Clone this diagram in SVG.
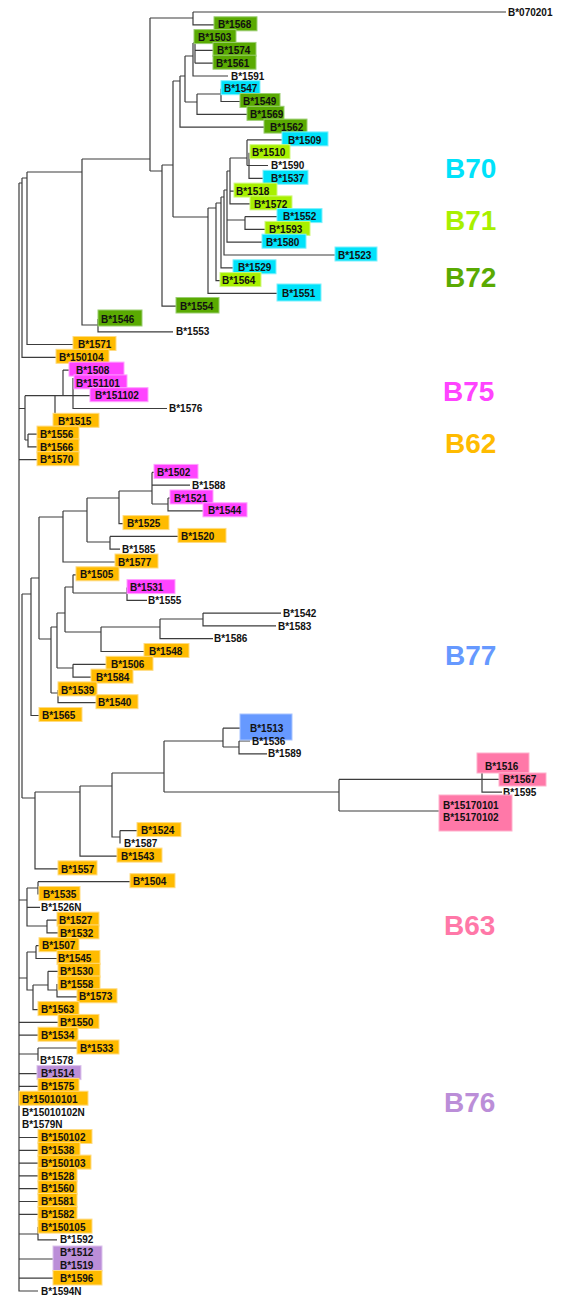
<svg xmlns="http://www.w3.org/2000/svg" width="565" height="1298" viewBox="0 0 565 1298">
<style>
.bg{fill:#fff}
.e{fill:none;stroke:#3c3c3c;stroke-width:1.2}
.t{font-family:"Liberation Sans",Arial,sans-serif;font-weight:bold;font-size:10px;fill:#111}
.big{font-family:"Liberation Sans",Arial,sans-serif;font-weight:bold;font-size:28px}
.c70{fill:#00E2FA;stroke:#7FF0FC}
.c71{fill:#A8F000;stroke:#D0F880}
.c72{fill:#5AAA02;stroke:#9ACE70}
.c75{fill:#FF44FF;stroke:#FFA0FF}
.c62{fill:#FFBB00;stroke:#FFDB80}
.c77{fill:#6699FF;stroke:#A8C4FF}
.c63{fill:#FF78A8;stroke:#FFB0CC}
.c76{fill:#BB8ED8;stroke:#DCC4EC}
</style>
<rect class="bg" x="0" y="0" width="565" height="1298"/>
<g id="connectors">
<path class="e" d="M193,12H506 M193,12V24.8H214 M150,18H193 M150,18V171 M82,159H150 M150,171H162 M162,165V306.2H176 M162,165H173 M173,81V217 M173,81H180 M180,76V127.1H264 M180,76H185 M185,56V102 M185,56H193 M193,43V76H228 M193,43H195 M195,37.6V63.2 M195,50.4H213 M195,63.2H213 M185,102H197 M197,94V114.3H247 M197,94H221 M221,88.7V101.5H240"/>
<path class="e" d="M173,217H208 M208,208V293.4H277 M208,208H216 M216,203V280.6H220 M216,203H221 M221,197V267.8H233 M221,197H224 M224,190V255H335 M224,190H227 M227,171V242.2H262 M227,220H245 M245,216.6V229.4H265 M245,216.6H277 M227,171H230 M230,158V203.9H250 M230,191.1H234 M230,158H247 M247,139.9V165.5 M247,139.9H282 M247,165.5H249 M249,152.7V178.3H263 M249,165.5H268"/>
<path class="e" d="M82,159V325H98 M98,319V331.8H173 M27,172H82 M27,172V344.5H73 M22,178H27 M22,178V357.3H56 M19,183H22 M19,183V1291H38"/>
<path class="e" d="M19,408.5H25 M25,395.7V440 M25,395.7H90 M55,395.7V421.3 M63,370.1V395.7 M63,370.1H69 M73,378V408.5H167 M25,440H28 M28,434.1V446.9H37 M28,434.1H37 M19,459.7H37"/>
<path class="e" d="M22,594V798 M22,594H31 M31,578V715.5H39 M31,578H39 M39,517V639 M39,517H63 M63,511V562H115 M63,511H87 M87,498V542 M87,498H119 M119,491V523.6H123 M119,491H152 M152,472.4V504 M152,472.4H154 M152,485.2H190 M152,504H168 M168,498V510.8H203 M168,498H170 M87,542H110 M110,536.4V549.2H120 M110,536.4H178 M39,639H51 M51,627V693 M51,627H57 M57,613V668 M57,613H65 M65,587V632 M65,587H73 M73,574.8V593 M73,574.8H76 M73,593H127 M127,587.6V600.3H147 M65,632H101 M101,627V651.5H144 M101,627H160 M160,619V638.7H213 M160,619H203 M203,613.1V625.9H276 M203,613.1H281 M57,668H73 M73,664.3V677.1H91 M73,664.3H106 M51,693H58 M58,689.9V702.7H96"/>
<path class="e" d="M22,798H35 M35,792V868.9H58 M35,792H80 M80,786V856.1H117 M80,786H112 M112,773V837H120 M120,830.6V843.4 M120,830.6H137 M112,773H164 M164,741V792 M164,741H223 M223,728.2V747 M223,728.2H240 M223,747H239 M239,741V753.8H267 M239,741H250 M164,792H339 M339,779.4V811 M339,779.4H500 M339,811H440 M440,805V817.8 M482,766.6V792.2H502"/>
<path class="e" d="M19,900H27 M27,888V926H47 M27,888H38 M38,881.7V894.5 M38,881.7H130 M27,907.3H40 M47,920.1V932.9H58 M47,920.1H57"/>
<path class="e" d="M19,978H27 M27,952V990H33 M27,952H36 M36,945.7V958.5H57 M36,945.7H39 M33,985V1009.6H38 M33,985H48 M48,971.3V990H57 M48,971.3H58 M57,984V996.8H77"/>
<path class="e" d="M19,1022.4H58 M19,1035.2H38 M19,1054H38 M38,1048V1060.8 M38,1048H77 M19,1073.6H37 M19,1086.4H38 M19,1137.5H38 M19,1150.3H38 M19,1163.1H38 M19,1175.9H38 M19,1188.7H38 M19,1201.5H38 M19,1214.3H38 M19,1234H38 M38,1227.1V1239.8H57 M19,1259H57 M57,1252.6V1265.4 M19,1278.2H53"/>
</g>
<g id="n0"><text class="t" x="508" y="15.6">B*070201</text></g>
<g id="n1"><rect class="c72" x="214" y="16.8" width="43" height="14"/><text class="t" x="218" y="28.4">B*1568</text></g>
<g id="n2"><rect class="c72" x="194" y="29.6" width="42" height="14"/><text class="t" x="198" y="41.2">B*1503</text></g>
<g id="n3"><rect class="c72" x="213" y="42.4" width="43" height="14"/><text class="t" x="217" y="54">B*1574</text></g>
<g id="n4"><rect class="c72" x="213" y="55.2" width="43" height="14"/><text class="t" x="216" y="66.8">B*1561</text></g>
<g id="n5"><text class="t" x="231" y="79.6">B*1591</text></g>
<g id="n6"><rect class="c70" x="221" y="80.7" width="39" height="14"/><text class="t" x="224" y="92.3">B*1547</text></g>
<g id="n7"><rect class="c72" x="240" y="93.5" width="40" height="14"/><text class="t" x="243" y="105.1">B*1549</text></g>
<g id="n8"><rect class="c72" x="247" y="106.3" width="37" height="14"/><text class="t" x="250" y="117.9">B*1569</text></g>
<g id="n9"><rect class="c72" x="264" y="119.1" width="43" height="14"/><text class="t" x="270" y="130.7">B*1562</text></g>
<g id="n10"><rect class="c70" x="282" y="131.9" width="46" height="14"/><text class="t" x="288" y="143.5">B*1509</text></g>
<g id="n11"><rect class="c71" x="250" y="144.7" width="40" height="14"/><text class="t" x="252" y="156.3">B*1510</text></g>
<g id="n12"><text class="t" x="271" y="169.1">B*1590</text></g>
<g id="n13"><rect class="c70" x="263" y="170.3" width="45" height="14"/><text class="t" x="271" y="181.9">B*1537</text></g>
<g id="n14"><rect class="c71" x="234" y="183.1" width="43" height="14"/><text class="t" x="236" y="194.7">B*1518</text></g>
<g id="n15"><rect class="c71" x="250" y="195.9" width="42" height="14"/><text class="t" x="254" y="207.5">B*1572</text></g>
<g id="n16"><rect class="c70" x="277" y="208.6" width="45" height="14"/><text class="t" x="283" y="220.2">B*1552</text></g>
<g id="n17"><rect class="c71" x="265" y="221.4" width="45" height="14"/><text class="t" x="269" y="233">B*1593</text></g>
<g id="n18"><rect class="c70" x="262" y="234.2" width="44" height="14"/><text class="t" x="266" y="245.8">B*1580</text></g>
<g id="n19"><rect class="c70" x="335" y="247" width="42" height="14"/><text class="t" x="338" y="258.6">B*1523</text></g>
<g id="n20"><rect class="c70" x="233" y="259.8" width="43" height="14"/><text class="t" x="238" y="271.4">B*1529</text></g>
<g id="n21"><rect class="c71" x="220" y="272.6" width="41" height="14"/><text class="t" x="222" y="284.2">B*1564</text></g>
<g id="n22"><rect class="c70" x="277" y="284" width="44" height="17"/><text class="t" x="282" y="297">B*1551</text></g>
<g id="n23"><rect class="c72" x="176" y="297.5" width="43" height="15.5"/><text class="t" x="180" y="309.8">B*1554</text></g>
<g id="n24"><rect class="c72" x="98" y="310" width="44" height="16"/><text class="t" x="101" y="322.6">B*1546</text></g>
<g id="n25"><text class="t" x="176" y="335.4">B*1553</text></g>
<g id="n26"><rect class="c62" x="73" y="336.5" width="43" height="14"/><text class="t" x="78" y="348.1">B*1571</text></g>
<g id="n27"><rect class="c62" x="56" y="349.3" width="53" height="14"/><text class="t" x="59" y="360.9">B*150104</text></g>
<g id="n28"><rect class="c75" x="69" y="362.1" width="55" height="14"/><text class="t" x="76" y="373.7">B*1508</text></g>
<g id="n29"><rect class="c75" x="74" y="374.9" width="53" height="14"/><text class="t" x="76" y="386.5">B*151101</text></g>
<g id="n30"><rect class="c75" x="90" y="387.7" width="58" height="14"/><text class="t" x="95" y="399.3">B*151102</text></g>
<g id="n31"><text class="t" x="169" y="412.1">B*1576</text></g>
<g id="n32"><rect class="c62" x="53" y="413.3" width="46" height="14"/><text class="t" x="58" y="424.9">B*1515</text></g>
<g id="n33"><rect class="c62" x="37" y="426.1" width="42" height="14"/><text class="t" x="40" y="437.7">B*1556</text></g>
<g id="n34"><rect class="c62" x="37" y="438.9" width="42" height="14"/><text class="t" x="40" y="450.5">B*1566</text></g>
<g id="n35"><rect class="c62" x="37" y="451.7" width="42" height="14"/><text class="t" x="40" y="463.3">B*1570</text></g>
<g id="n36"><rect class="c75" x="154" y="464.4" width="44" height="14"/><text class="t" x="157" y="476">B*1502</text></g>
<g id="n37"><text class="t" x="192" y="488.8">B*1588</text></g>
<g id="n38"><rect class="c75" x="170" y="490" width="43" height="14"/><text class="t" x="174" y="501.6">B*1521</text></g>
<g id="n39"><rect class="c75" x="203" y="502.8" width="44" height="14"/><text class="t" x="208" y="514.4">B*1544</text></g>
<g id="n40"><rect class="c62" x="123" y="515.6" width="46" height="14"/><text class="t" x="127" y="527.2">B*1525</text></g>
<g id="n41"><rect class="c62" x="178" y="528.4" width="48" height="14"/><text class="t" x="181" y="540">B*1520</text></g>
<g id="n42"><text class="t" x="122" y="552.8">B*1585</text></g>
<g id="n43"><rect class="c62" x="115" y="554" width="43" height="14"/><text class="t" x="118" y="565.6">B*1577</text></g>
<g id="n44"><rect class="c62" x="76" y="566.8" width="43" height="14"/><text class="t" x="80" y="578.4">B*1505</text></g>
<g id="n45"><rect class="c75" x="127" y="579.6" width="48" height="14"/><text class="t" x="130" y="591.2">B*1531</text></g>
<g id="n46"><text class="t" x="148" y="603.9">B*1555</text></g>
<g id="n47"><text class="t" x="283" y="616.7">B*1542</text></g>
<g id="n48"><text class="t" x="278" y="629.5">B*1583</text></g>
<g id="n49"><text class="t" x="214" y="642.3">B*1586</text></g>
<g id="n50"><rect class="c62" x="144" y="643.5" width="45" height="14"/><text class="t" x="149" y="655.1">B*1548</text></g>
<g id="n51"><rect class="c62" x="106" y="656.3" width="47" height="14"/><text class="t" x="111" y="667.9">B*1506</text></g>
<g id="n52"><rect class="c62" x="91" y="669.1" width="42" height="14"/><text class="t" x="96" y="680.7">B*1584</text></g>
<g id="n53"><rect class="c62" x="58" y="681.9" width="39" height="14"/><text class="t" x="61" y="693.5">B*1539</text></g>
<g id="n54"><rect class="c62" x="96" y="694.7" width="42" height="14"/><text class="t" x="98" y="706.3">B*1540</text></g>
<g id="n55"><rect class="c62" x="39" y="707.5" width="43" height="14"/><text class="t" x="42" y="719.1">B*1565</text></g>
<g id="n56"><rect class="c77" x="240" y="714" width="52" height="26"/><text class="t" x="250" y="731.8">B*1513</text></g>
<g id="n57"><text class="t" x="252" y="744.6">B*1536</text></g>
<g id="n58"><text class="t" x="268" y="757.4">B*1589</text></g>
<g id="n59"><rect class="c63" x="477" y="753" width="52" height="20"/><text class="t" x="485" y="770.2">B*1516</text></g>
<g id="n60"><rect class="c63" x="499" y="773" width="47" height="13"/><text class="t" x="503" y="783">B*1567</text></g>
<g id="n61"><text class="t" x="503" y="795.8">B*1595</text></g>
<g id="n62"><rect class="c63" x="439" y="795" width="73" height="36"/><text class="t" x="443" y="808.6">B*15170101</text></g>
<g id="n63"><text class="t" x="443" y="821.4">B*15170102</text></g>
<g id="n64"><rect class="c62" x="137" y="822.6" width="44" height="14"/><text class="t" x="141" y="834.2">B*1524</text></g>
<g id="n65"><text class="t" x="124" y="847">B*1587</text></g>
<g id="n66"><rect class="c62" x="117" y="848.1" width="45" height="14"/><text class="t" x="121" y="859.7">B*1543</text></g>
<g id="n67"><rect class="c62" x="58" y="860.9" width="39" height="14"/><text class="t" x="61" y="872.5">B*1557</text></g>
<g id="n68"><rect class="c62" x="130" y="873.7" width="45" height="14"/><text class="t" x="133" y="885.3">B*1504</text></g>
<g id="n69"><rect class="c62" x="39" y="886.5" width="41" height="14"/><text class="t" x="43" y="898.1">B*1535</text></g>
<g id="n70"><text class="t" x="41" y="910.9">B*1526N</text></g>
<g id="n71"><rect class="c62" x="57" y="912.1" width="42" height="14"/><text class="t" x="59" y="923.7">B*1527</text></g>
<g id="n72"><rect class="c62" x="58" y="924.9" width="41" height="14"/><text class="t" x="60" y="936.5">B*1532</text></g>
<g id="n73"><rect class="c62" x="39" y="937.7" width="40" height="14"/><text class="t" x="42" y="949.3">B*1507</text></g>
<g id="n74"><rect class="c62" x="57" y="950.5" width="43" height="14"/><text class="t" x="58" y="962.1">B*1545</text></g>
<g id="n75"><rect class="c62" x="58" y="963.3" width="42" height="14"/><text class="t" x="60" y="974.9">B*1530</text></g>
<g id="n76"><rect class="c62" x="58" y="976" width="42" height="14"/><text class="t" x="60" y="987.6">B*1558</text></g>
<g id="n77"><rect class="c62" x="77" y="988.8" width="40" height="14"/><text class="t" x="79" y="1000.4">B*1573</text></g>
<g id="n78"><rect class="c62" x="38" y="1001.6" width="41" height="14"/><text class="t" x="41" y="1013.2">B*1563</text></g>
<g id="n79"><rect class="c62" x="58" y="1014.4" width="41" height="14"/><text class="t" x="60" y="1026">B*1550</text></g>
<g id="n80"><rect class="c62" x="38" y="1027.2" width="40" height="14"/><text class="t" x="41" y="1038.8">B*1534</text></g>
<g id="n81"><rect class="c62" x="77" y="1040" width="42" height="14"/><text class="t" x="80" y="1051.6">B*1533</text></g>
<g id="n82"><text class="t" x="40" y="1064.4">B*1578</text></g>
<g id="n83"><rect class="c76" x="37" y="1065.6" width="44" height="14"/><text class="t" x="41" y="1077.2">B*1514</text></g>
<g id="n84"><rect class="c62" x="38" y="1078.4" width="41" height="14"/><text class="t" x="41" y="1090">B*1575</text></g>
<g id="n85"><rect class="c62" x="19" y="1091.2" width="69" height="14"/><text class="t" x="22" y="1102.8">B*15010101</text></g>
<g id="n86"><text class="t" x="22" y="1115.5">B*15010102N</text></g>
<g id="n87"><text class="t" x="22" y="1128.3">B*1579N</text></g>
<g id="n88"><rect class="c62" x="38" y="1129.5" width="54" height="14"/><text class="t" x="41" y="1141.1">B*150102</text></g>
<g id="n89"><rect class="c62" x="38" y="1142.3" width="42" height="14"/><text class="t" x="41" y="1153.9">B*1538</text></g>
<g id="n90"><rect class="c62" x="38" y="1155.1" width="53" height="14"/><text class="t" x="41" y="1166.7">B*150103</text></g>
<g id="n91"><rect class="c62" x="38" y="1167.9" width="39" height="14"/><text class="t" x="41" y="1179.5">B*1528</text></g>
<g id="n92"><rect class="c62" x="38" y="1180.7" width="39" height="14"/><text class="t" x="41" y="1192.3">B*1560</text></g>
<g id="n93"><rect class="c62" x="38" y="1193.5" width="39" height="14"/><text class="t" x="41" y="1205.1">B*1581</text></g>
<g id="n94"><rect class="c62" x="38" y="1206.3" width="39" height="14"/><text class="t" x="41" y="1217.9">B*1582</text></g>
<g id="n95"><rect class="c62" x="38" y="1219.1" width="54" height="14"/><text class="t" x="41" y="1230.7">B*150105</text></g>
<g id="n96"><text class="t" x="60" y="1243.4">B*1592</text></g>
<g id="n97"><rect class="c76" x="53" y="1246" width="49" height="25"/><text class="t" x="60" y="1256.2">B*1512</text></g>
<g id="n98"><text class="t" x="60" y="1269">B*1519</text></g>
<g id="n99"><rect class="c62" x="53" y="1270.5" width="49" height="14.5"/><text class="t" x="60" y="1281.8">B*1596</text></g>
<g id="n100"><text class="t" x="41" y="1294.6">B*1594N</text></g>
<g id="legend">
<text class="big" x="445" y="178" fill="#00E2FA">B70</text>
<text class="big" x="445" y="230" fill="#A8F000">B71</text>
<text class="big" x="445" y="287" fill="#5AAA02">B72</text>
<text class="big" x="443" y="401" fill="#FF44FF">B75</text>
<text class="big" x="445" y="453" fill="#FFBB00">B62</text>
<text class="big" x="445" y="665" fill="#6699FF">B77</text>
<text class="big" x="444" y="935" fill="#FF78A8">B63</text>
<text class="big" x="444" y="1112" fill="#BB8ED8">B76</text>
</g>
</svg>
